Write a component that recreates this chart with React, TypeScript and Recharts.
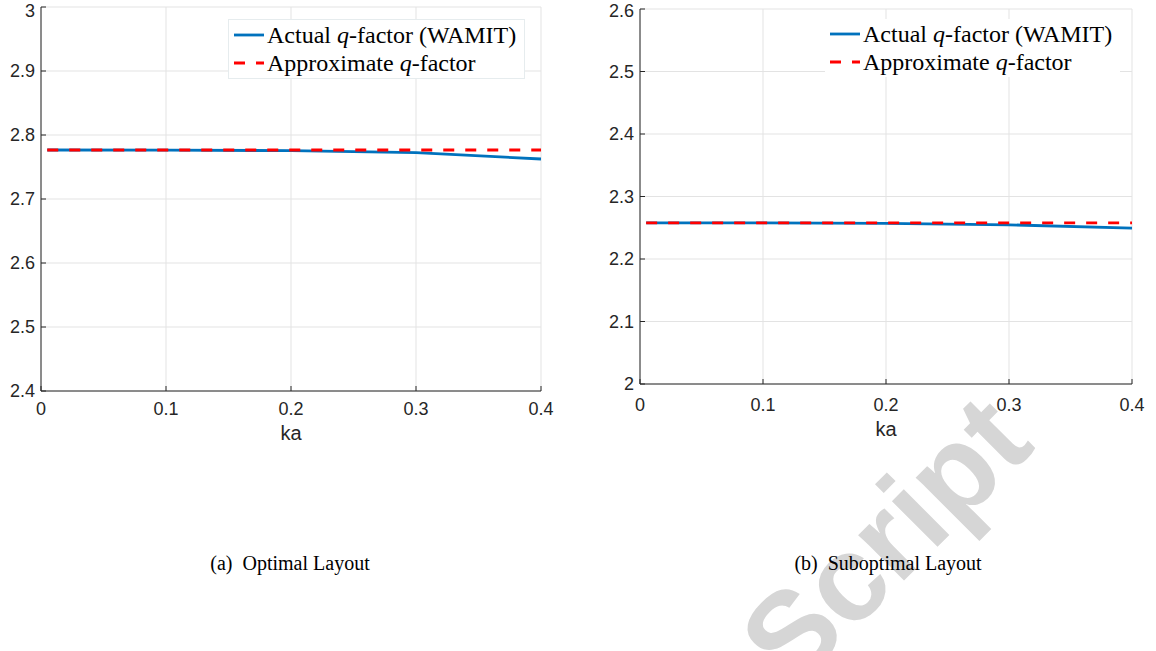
import { LineChart, Line, XAxis, YAxis, CartesianGrid, Legend } from 'recharts';

const kaValues = [0.005, 0.1, 0.2, 0.3, 0.4];
const actualOptimal = [2.7766, 2.7764, 2.7755, 2.7724, 2.7625];
const approxOptimal = [2.7766, 2.7766, 2.7766, 2.7766, 2.7766];
const actualSuboptimal = [2.2579, 2.2577, 2.2569, 2.2547, 2.2494];
const approxSuboptimal = [2.2579, 2.2579, 2.2579, 2.2579, 2.2579];

const xTicks = [0, 0.1, 0.2, 0.3, 0.4];
const yTicksOptimal = [2.4, 2.5, 2.6, 2.7, 2.8, 2.9, 3];
const yTicksSuboptimal = [2, 2.1, 2.2, 2.3, 2.4, 2.5, 2.6];

const seriesNames = ['Actual q-factor (WAMIT)', 'Approximate q-factor'];
const captions = ['(a)\u00a0\u00a0Optimal Layout', '(b)\u00a0\u00a0Suboptimal Layout'];

const AXIS = '#262626';
const GRID = '#e3e3e3';
const BLUE = '#0072BD';
const RED = '#FF0000';
const SANS = '"Liberation Sans", Arial, sans-serif';
const SERIF = '"Liberation Serif", "Times New Roman", serif';

function legendLabel(name: string) {
  const parts = name.split('q-');
  return (
    <>
      {parts[0]}
      <i>q</i>-{parts[1]}
    </>
  );
}

function renderLegend(border: boolean) {
  return (props: any) => {
    const items = props.payload || [];
    return (
      <div
        style={{
          border: border ? '1px solid #e6ecee' : 'none',
          background: '#fff',
          padding: '1px 8px 1px 4px',
          fontFamily: SERIF,
          fontSize: 24,
          color: '#000',
          lineHeight: '28px',
          whiteSpace: 'nowrap',
        }}
      >
        {items.map((it: any) => (
          <div key={it.value} style={{ display: 'flex', alignItems: 'center' }}>
            <svg width={32} height={6} style={{ marginRight: 2 }}>
              <line
                x1={1}
                y1={3}
                x2={31}
                y2={3}
                stroke={it.color}
                strokeWidth={2.8}
                strokeDasharray={it.payload?.strokeDasharray}
              />
            </svg>
            <span>{legendLabel(it.value)}</span>
          </div>
        ))}
      </div>
    );
  };
}

interface PanelProps {
  actual: number[];
  approx: number[];
  yTicks: number[];
  left: number;
  marginTop: number;
  marginRight: number;
  xAxisHeight: number;
  tickMarginX: number;
  labelOffset: number;
  legendPos: { top: number; left: number };
  legendBorder: boolean;
}

function Panel(p: PanelProps) {
  const data = kaValues.map((ka, i) => ({ ka, actual: p.actual[i], approx: p.approx[i] }));
  const domain: [number, number] = [p.yTicks[0], p.yTicks[p.yTicks.length - 1]];
  const tickStyle = { fill: AXIS, fontSize: 18, fontFamily: SANS };
  return (
    <div style={{ position: 'absolute', left: p.left, top: 0 }}>
      <LineChart
        width={560}
        height={460}
        data={data}
        margin={{ top: p.marginTop, right: p.marginRight, bottom: 0, left: 0 }}
      >
        <CartesianGrid xAxisId="b" yAxisId="l" stroke={GRID} strokeWidth={1} />
        <XAxis
          xAxisId="b"
          dataKey="ka"
          type="number"
          domain={[0, 0.4]}
          ticks={xTicks}
          height={p.xAxisHeight}
          stroke={AXIS}
          tickSize={-5}
          tickMargin={p.tickMarginX}
          tick={tickStyle}
          label={{ value: 'ka', position: 'insideBottom', offset: p.labelOffset, fill: AXIS, fontSize: 20, fontFamily: SANS }}
        />
        <XAxis
          xAxisId="t"
          orientation="top"
          dataKey="ka"
          type="number"
          domain={[0, 0.4]}
          ticks={xTicks}
          height={0}
          stroke={AXIS}
          tickSize={-5}
          tick={false}
        />
        <YAxis
          yAxisId="l"
          type="number"
          domain={domain}
          ticks={p.yTicks}
          width={40}
          stroke={AXIS}
          tickSize={-5}
          tickMargin={11}
          tick={tickStyle}
        />
        <YAxis
          yAxisId="r"
          orientation="right"
          type="number"
          domain={domain}
          ticks={p.yTicks}
          width={0}
          stroke={AXIS}
          tickSize={-5}
          tick={false}
        />
        <Legend
          layout="vertical"
          align="center"
          verticalAlign="middle"
          content={renderLegend(p.legendBorder)}
          wrapperStyle={{ top: p.legendPos.top, left: p.legendPos.left, width: 'auto' }}
        />
        <Line
          xAxisId="b"
          yAxisId="l"
          type="linear"
          dataKey="actual"
          name={seriesNames[0]}
          stroke={BLUE}
          strokeWidth={2.8}
          dot={false}
          isAnimationActive={false}
        />
        <Line
          xAxisId="b"
          yAxisId="l"
          type="linear"
          dataKey="approx"
          name={seriesNames[1]}
          stroke={RED}
          strokeWidth={2.8}
          strokeDasharray="11 11"
          dot={false}
          isAnimationActive={false}
        />
      </LineChart>
    </div>
  );
}

export default function App() {
  return (
    <div
      style={{
        position: 'absolute',
        left: 0,
        top: 0,
        width: 1156,
        height: 651,
        background: '#fff',
        overflow: 'hidden',
      }}
    >
      <div
        style={{
          position: 'absolute',
          left: 885,
          top: 540,
          transform: 'translate(-50%, -50%) rotate(-45deg)',
          fontFamily: SANS,
          fontWeight: 'bold',
          fontSize: 122,
          color: '#d6d6d6',
          whiteSpace: 'nowrap',
        }}
      >
        Script
      </div>
      <Panel
        actual={actualOptimal}
        approx={approxOptimal}
        yTicks={yTicksOptimal}
        left={1}
        marginTop={7}
        marginRight={20}
        xAxisHeight={69}
        tickMarginX={16}
        labelOffset={20}
        legendPos={{ top: 19, left: 227 }}
        legendBorder={true}
      />
      <Panel
        actual={actualSuboptimal}
        approx={approxSuboptimal}
        yTicks={yTicksSuboptimal}
        left={600}
        marginTop={9}
        marginRight={28}
        xAxisHeight={76}
        tickMarginX={19}
        labelOffset={24}
        legendPos={{ top: 19, left: 225 }}
        legendBorder={false}
      />
      {captions.map((c, i) => (
        <div
          key={c}
          style={{
            position: 'absolute',
            left: i === 0 ? 290 : 888,
            top: 563,
            transform: 'translate(-50%, -50%)',
            fontFamily: SERIF,
            fontSize: 20,
            color: '#000',
            whiteSpace: 'nowrap',
          }}
        >
          {c}
        </div>
      ))}
    </div>
  );
}
